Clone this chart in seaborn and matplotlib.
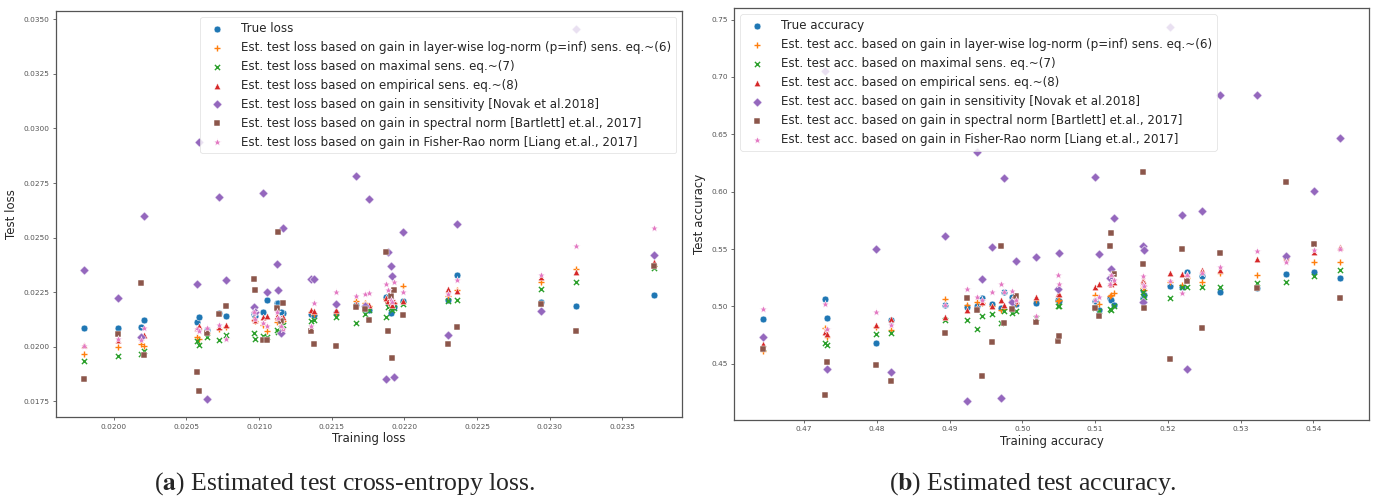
import matplotlib.pyplot as plt
import matplotlib.ticker as mticker
import seaborn as sns
import numpy as np
import pandas as pd

# ---- (a) loss panel: one entry per trained model ----
train_loss = [0.019798, 0.020030, 0.020188, 0.020207, 0.020572, 0.020588, 0.020639, 0.020722, 0.020772,
              0.020966, 0.020972, 0.021026, 0.021057, 0.021122, 0.021129, 0.021163, 0.021150, 0.021357,
              0.021375, 0.021526, 0.021669, 0.021726, 0.021754, 0.021876, 0.021885, 0.021910, 0.021915,
              0.021926, 0.021993, 0.022299, 0.022361, 0.022943, 0.023184, 0.023715]
true_loss = [0.02084, 0.02085, 0.02090, 0.02122, 0.02112, 0.02135, 0.02079, 0.02157, 0.02143, 0.02152,
             0.02143, 0.02158, 0.02213, 0.02199, 0.02199, 0.02154, 0.02161, 0.02152, 0.02148, 0.02155,
             0.02193, 0.02174, 0.02167, 0.02227, 0.02202, 0.02155, 0.02189, 0.02184, 0.02210, 0.02216,
             0.02327, 0.02207, 0.02187, 0.02236]
loss_lognorm = [0.01965, 0.02001, 0.02011, 0.02003, 0.02046, 0.02038, 0.02065, 0.02082, 0.02093, 0.02125,
                0.02116, 0.02102, 0.02074, 0.02112, 0.02125, 0.02117, 0.02111, 0.02161, 0.02152, 0.02155,
                0.02212, 0.02201, 0.02189, 0.02221, 0.02207, 0.02193, 0.02198, 0.02202, 0.02277, 0.02234,
                0.02262, 0.02295, 0.02358, 0.02368]
loss_maxsens = [0.01937, 0.01956, 0.01965, 0.01979, 0.02027, 0.02009, 0.02044, 0.02032, 0.02055, 0.02064,
                0.02038, 0.02050, 0.02046, 0.02079, 0.02070, 0.02102, 0.02088, 0.02116, 0.02122, 0.02137,
                0.02110, 0.02152, 0.02170, 0.02137, 0.02183, 0.02178, 0.02170, 0.02176, 0.02197, 0.02208,
                0.02216, 0.02265, 0.02295, 0.02362]
loss_empsens = [0.02007, 0.02029, 0.02043, 0.02055, 0.02085, 0.02097, 0.02074, 0.02093, 0.02102, 0.02134,
                0.02125, 0.02135, 0.02140, 0.02140, 0.02134, 0.02137, 0.02134, 0.02167, 0.02163, 0.02170,
                0.02198, 0.02198, 0.02193, 0.02225, 0.02208, 0.02202, 0.02193, 0.02212, 0.02210, 0.02265,
                0.02257, 0.02318, 0.02341, 0.02388]
loss_novak = [0.02353, 0.02225, 0.02047, 0.02597, 0.02288, 0.02937, 0.01762, 0.02688, 0.02308, 0.02184,
              0.02161, 0.02705, 0.02253, 0.02379, 0.02262, 0.02542, 0.02064, 0.02311, 0.02312, 0.02198,
              0.02784, 0.02189, 0.02676, 0.01854, 0.02434, 0.02368, 0.02323, 0.01863, 0.02524, 0.02052,
              0.02562, 0.02165, 0.03453, 0.02419]
loss_spectral = [0.01851, 0.02059, 0.02291, 0.01963, 0.01887, 0.01800, 0.02064, 0.02152, 0.02189, 0.02309,
                 0.02262, 0.02032, 0.02032, 0.02176, 0.02524, 0.02199, 0.02116, 0.02071, 0.02011, 0.02006,
                 0.02183, 0.02174, 0.02125, 0.02432, 0.02071, 0.02234, 0.01948, 0.02260, 0.02146, 0.02015,
                 0.02093, 0.02195, 0.02074, 0.02368]
loss_fisher = [0.02004, 0.02038, 0.02030, 0.02084, 0.02081, 0.02074, 0.02084, 0.02102, 0.02038, 0.02158,
               0.02128, 0.02110, 0.02097, 0.02158, 0.02134, 0.02082, 0.02097, 0.02094, 0.02201, 0.02250,
               0.02231, 0.02242, 0.02247, 0.02288, 0.02262, 0.02216, 0.02207, 0.02295, 0.02253, 0.02242,
               0.02308, 0.02330, 0.02463, 0.02544]

# ---- (b) accuracy panel ----
train_acc = [0.46437, 0.47294, 0.47308, 0.47989, 0.48195, 0.48942, 0.49239, 0.49376, 0.49451, 0.49578,
             0.49706, 0.49743, 0.49863, 0.49908, 0.50183, 0.50485, 0.50503, 0.50993, 0.51052, 0.51199,
             0.51213, 0.51258, 0.51657, 0.51662, 0.51676, 0.52023, 0.52192, 0.52257, 0.52467, 0.52714,
             0.53228, 0.53621, 0.54005, 0.54368]
true_acc = [0.4887, 0.5061, 0.4899, 0.4682, 0.4884, 0.5012, 0.4997, 0.5000, 0.5070, 0.5023, 0.4983, 0.5125,
            0.5087, 0.5023, 0.5032, 0.5058, 0.5052, 0.5050, 0.4971, 0.5073, 0.5058, 0.5012, 0.5145, 0.5078,
            0.5102, 0.5180, 0.5171, 0.5299, 0.5264, 0.5125, 0.5160, 0.5287, 0.5304, 0.5250]
acc_lognorm = [0.4609, 0.4809, 0.4730, 0.4823, 0.4791, 0.5067, 0.5015, 0.5038, 0.5030, 0.5006, 0.4971, 0.4977,
               0.5058, 0.5032, 0.5058, 0.5050, 0.5058, 0.5102, 0.5026, 0.5093, 0.5102, 0.5117, 0.5189, 0.5163,
               0.5145, 0.5215, 0.5189, 0.5250, 0.5217, 0.5296, 0.5276, 0.5421, 0.5391, 0.5391]
acc_maxsens = [0.4641, 0.4682, 0.4667, 0.4757, 0.4769, 0.4884, 0.4882, 0.4806, 0.4917, 0.4934, 0.4856, 0.4957,
               0.4943, 0.4957, 0.4899, 0.5006, 0.5006, 0.4989, 0.4963, 0.4977, 0.4971, 0.5006, 0.5130, 0.5050,
               0.5087, 0.5073, 0.5169, 0.5169, 0.5169, 0.5169, 0.5209, 0.5217, 0.5267, 0.5319]
acc_empsens = [0.4673, 0.4774, 0.4763, 0.4841, 0.4890, 0.4908, 0.4971, 0.4989, 0.5041, 0.5000, 0.5058, 0.5015,
               0.5067, 0.5050, 0.5087, 0.5108, 0.5108, 0.5169, 0.5195, 0.5203, 0.5197, 0.5212, 0.5232, 0.5215,
               0.5206, 0.5290, 0.5282, 0.5282, 0.5319, 0.5319, 0.5412, 0.5435, 0.5478, 0.5517]
acc_novak = [0.4737, 0.7052, 0.4458, 0.5499, 0.4430, 0.5617, 0.4174, 0.6348, 0.5241, 0.5517, 0.4203, 0.6117,
             0.5035, 0.5397, 0.5430, 0.5154, 0.5467, 0.6130, 0.5461, 0.5252, 0.5328, 0.5774, 0.5528, 0.5035,
             0.5493, 0.7435, 0.5800, 0.4458, 0.5835, 0.6844, 0.6844, 0.5443, 0.6003, 0.6464]
acc_spectral = [0.4632, 0.4226, 0.4519, 0.4487, 0.4354, 0.4771, 0.5076, 0.4969, 0.4391, 0.4687, 0.5528, 0.4856,
                0.4980, 0.5090, 0.4864, 0.4702, 0.4745, 0.4983, 0.4919, 0.5528, 0.5638, 0.5282, 0.5369, 0.6169,
                0.4991, 0.4545, 0.5499, 0.5221, 0.4809, 0.5470, 0.5165, 0.6087, 0.5548, 0.5076]
acc_fisher = [0.4980, 0.5023, 0.4803, 0.4951, 0.4841, 0.5009, 0.5151, 0.5084, 0.5058, 0.5122, 0.5195, 0.5130,
              0.5139, 0.5058, 0.4919, 0.5276, 0.5195, 0.5058, 0.5087, 0.5195, 0.5276, 0.5232, 0.5270, 0.5189,
              0.5180, 0.5226, 0.5117, 0.5276, 0.5296, 0.5348, 0.5487, 0.5391, 0.5493, 0.5499]

loss_labels = ["True loss",
               "Est. test loss based on gain in layer-wise log-norm (p=inf) sens. eq.~(6)",
               "Est. test loss based on maximal sens. eq.~(7)",
               "Est. test loss based on empirical sens. eq.~(8)",
               "Est. test loss based on gain in sensitivity [Novak et al.2018]",
               "Est. test loss based on gain in spectral norm [Bartlett] et.al., 2017]",
               "Est. test loss based on gain in Fisher-Rao norm [Liang et.al., 2017]"]
acc_labels = ["True accuracy",
              "Est. test acc. based on gain in layer-wise log-norm (p=inf) sens. eq.~(6)",
              "Est. test acc. based on maximal sens. eq.~(7)",
              "Est. test acc. based on empirical sens. eq.~(8)",
              "Est. test acc. based on gain in sensitivity [Novak et al.2018]",
              "Est. test acc. based on gain in spectral norm [Bartlett] et.al., 2017]",
              "Est. test acc. based on gain in Fisher-Rao norm [Liang et.al., 2017]"]

markers = ['o', '+', 'x', '^', 'D', 's', '*']
sizes = [24, 16, 14, 22, 22, 22, 34]
colors = sns.color_palette("tab10", 7)

sns.set_style("ticks")
plt.rcParams['font.family'] = ['DejaVu Sans']
plt.rcParams['mathtext.fontset'] = 'stix'


def draw_panel(ax, x, series, labels, xlabel, ylabel, legend_loc, step_x, step_y, fmt):
    for ys, lab, m, c, sz in zip(series, labels, markers, colors, sizes):
        if m in ('+', 'x'):
            sns.scatterplot(x=x, y=ys, ax=ax, marker=m, color=c, s=sz, linewidth=1.0, label=lab)
        else:
            sns.scatterplot(x=x, y=ys, ax=ax, marker=m, color=c, s=sz, edgecolor='white',
                            linewidth=0.35, label=lab)
    ax.set_xlabel(xlabel, fontsize=8.5, color='#262626', labelpad=2)
    ax.set_ylabel(ylabel, fontsize=8.5, color='#262626', labelpad=4)
    ax.xaxis.set_major_locator(mticker.MultipleLocator(step_x))
    ax.yaxis.set_major_locator(mticker.MultipleLocator(step_y))
    ax.xaxis.set_major_formatter(mticker.FormatStrFormatter(fmt[0]))
    ax.yaxis.set_major_formatter(mticker.FormatStrFormatter(fmt[1]))
    ax.tick_params(labelsize=5.3, labelcolor='#555555', color='#555555', length=2.5, width=0.6, pad=2)
    for sp in ax.spines.values():
        sp.set_visible(True)
        sp.set_color('#555555')
        sp.set_linewidth(0.9)
    ax.margins(0.05)
    leg = ax.legend(loc=legend_loc, fontsize=8.6, frameon=True, framealpha=0.8,
                    edgecolor='#dddddd', fancybox=True, handletextpad=1.0)
    leg.get_frame().set_linewidth(0.6)


fig = plt.figure(figsize=(13.73, 4.97), dpi=100)
ax1 = fig.add_axes([0.0408, 0.1604, 0.4559, 0.8175])
ax2 = fig.add_axes([0.5348, 0.1549, 0.4623, 0.8284])

draw_panel(ax1, train_loss,
           [true_loss, loss_lognorm, loss_maxsens, loss_empsens, loss_novak, loss_spectral, loss_fisher],
           loss_labels, "Training loss", "Test loss", "upper right", 0.0005, 0.0025, ("%.4f", "%.4f"))
draw_panel(ax2, train_acc,
           [true_acc, acc_lognorm, acc_maxsens, acc_empsens, acc_novak, acc_spectral, acc_fisher],
           acc_labels, "Training accuracy", "Test accuracy", "upper left", 0.01, 0.05, ("%.2f", "%.2f"))

fig.text(0.2513, 0.0155, r"($\mathbf{a}$) Estimated test cross-entropy loss.", ha='center', va='baseline',
         fontsize=18.5, family=['Liberation Serif'])
fig.text(0.752, 0.0155, r"($\mathbf{b}$) Estimated test accuracy.", ha='center', va='baseline',
         fontsize=18.5, family=['Liberation Serif'])

fig.savefig("out.png", dpi=100)
